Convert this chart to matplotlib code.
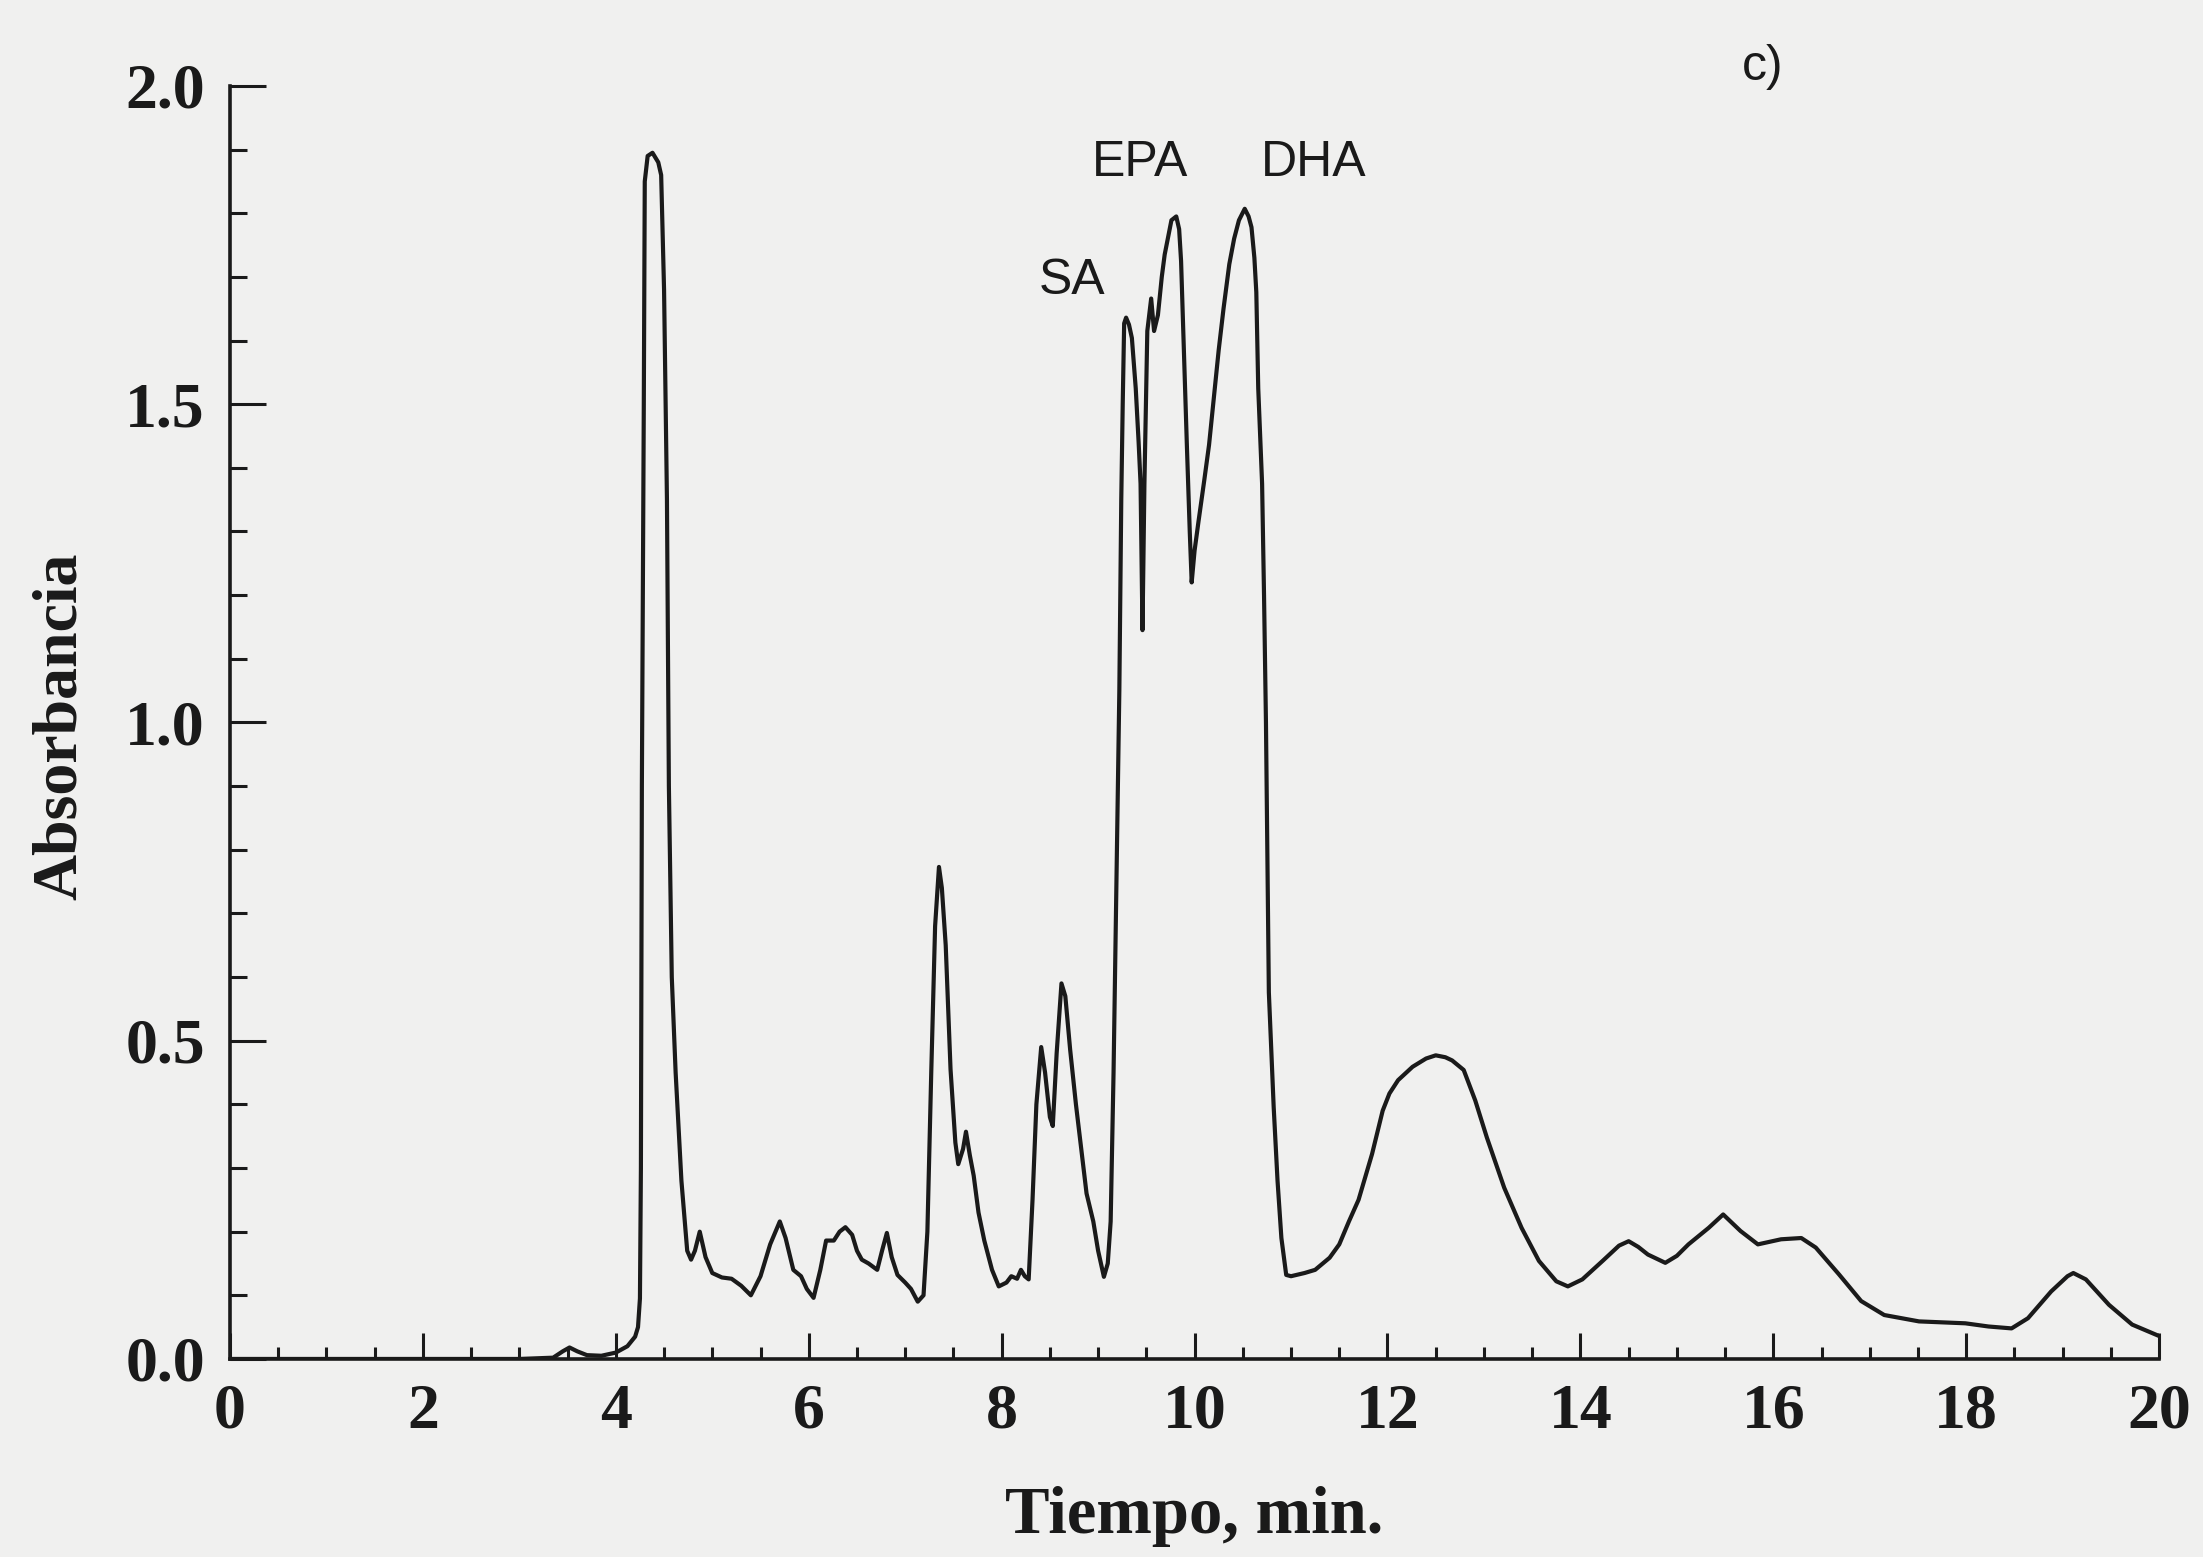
# Cromatograma c): absorbancia frente al tiempo de retención
# con los picos SA, EPA y DHA señalados.

import matplotlib
matplotlib.use('Agg')
import matplotlib.pyplot as plt
from matplotlib.ticker import MultipleLocator, FormatStrFormatter

# Datos del cromatograma (tiempo en min, absorbancia)
tiempo = [
    0.0, 3.0, 3.35, 3.45, 3.52, 3.6, 3.7, 3.85, 4.0, 4.12, 4.2, 4.23, 4.25,
    4.26, 4.27, 4.29, 4.30, 4.33, 4.38, 4.44, 4.47, 4.50, 4.53, 4.55, 4.58,
    4.62, 4.68, 4.74, 4.78, 4.82, 4.87, 4.93, 5.0, 5.1, 5.2, 5.3, 5.4, 5.5,
    5.6, 5.7, 5.76, 5.84, 5.92, 5.98, 6.05, 6.12, 6.18, 6.26, 6.32, 6.38,
    6.45, 6.5, 6.55, 6.62, 6.71, 6.76, 6.81, 6.86, 6.92, 7.0, 7.06, 7.13,
    7.19, 7.23, 7.27, 7.31, 7.35, 7.38, 7.42, 7.47, 7.52, 7.55, 7.6, 7.63,
    7.67, 7.71, 7.76, 7.82, 7.9, 7.97, 8.05, 8.1, 8.16, 8.2, 8.24, 8.28,
    8.32, 8.36, 8.41, 8.45, 8.5, 8.53, 8.57, 8.62, 8.66, 8.71, 8.77, 8.82,
    8.88, 8.95, 9.0, 9.06, 9.1, 9.13, 9.16, 9.19, 9.22, 9.24, 9.255, 9.27,
    9.29, 9.32, 9.35, 9.39, 9.42, 9.44, 9.46, 9.48, 9.51, 9.55, 9.58, 9.62,
    9.66, 9.69, 9.76, 9.81, 9.84, 9.86, 9.88, 9.92, 9.95, 9.97, 10.0, 10.04,
    10.1, 10.15, 10.2, 10.25, 10.3, 10.36, 10.41, 10.46, 10.52, 10.56, 10.59,
    10.62, 10.64, 10.66, 10.70, 10.72, 10.74, 10.77, 10.82, 10.86, 10.9,
    10.95, 11.0, 11.14, 11.25, 11.4, 11.5, 11.6, 11.7, 11.84, 11.95, 12.02,
    12.11, 12.26, 12.4, 12.5, 12.6, 12.67, 12.79, 12.91, 13.03, 13.21, 13.39,
    13.57, 13.75, 13.87, 14.02, 14.23, 14.4, 14.5, 14.6, 14.7, 14.88, 15.0,
    15.12, 15.33, 15.48, 15.66, 15.84, 16.08, 16.29, 16.44, 16.68, 16.91,
    17.15, 17.51, 17.99, 18.23, 18.47, 18.64, 18.88, 19.05, 19.11, 19.24,
    19.48, 19.72, 20.0,
]
absorbancia = [
    0.0, 0.0, 0.002, 0.012, 0.018, 0.012, 0.006, 0.005, 0.01, 0.02, 0.035,
    0.05, 0.095, 0.3, 0.9, 1.5, 1.85, 1.89, 1.895, 1.88, 1.86, 1.68, 1.35,
    0.9, 0.6, 0.45, 0.28, 0.17, 0.156, 0.17, 0.20, 0.16, 0.135, 0.128, 0.126,
    0.115, 0.10, 0.13, 0.18, 0.216, 0.19, 0.14, 0.13, 0.11, 0.096, 0.14,
    0.186, 0.186, 0.20, 0.207, 0.195, 0.17, 0.156, 0.15, 0.14, 0.17, 0.198,
    0.16, 0.132, 0.12, 0.11, 0.09, 0.10, 0.2, 0.45, 0.68, 0.773, 0.74, 0.65,
    0.455, 0.34, 0.306, 0.33, 0.357, 0.32, 0.288, 0.23, 0.186, 0.14, 0.114,
    0.12, 0.13, 0.126, 0.14, 0.13, 0.125, 0.25, 0.40, 0.49, 0.45, 0.38,
    0.366, 0.48, 0.59, 0.57, 0.486, 0.40, 0.336, 0.26, 0.216, 0.17, 0.129,
    0.15, 0.216, 0.45, 0.75, 1.05, 1.35, 1.5, 1.627, 1.636, 1.625, 1.604,
    1.525, 1.44, 1.375, 1.145, 1.375, 1.615, 1.666, 1.615, 1.64, 1.70, 1.735,
    1.789, 1.795, 1.775, 1.725, 1.627, 1.436, 1.30, 1.22, 1.27, 1.315, 1.38,
    1.436, 1.51, 1.585, 1.65, 1.72, 1.76, 1.789, 1.807, 1.795, 1.778, 1.73,
    1.676, 1.525, 1.375, 1.20, 1.0, 0.576, 0.396, 0.28, 0.19, 0.132, 0.13,
    0.135, 0.14, 0.159, 0.18, 0.216, 0.25, 0.322, 0.39, 0.417, 0.438, 0.459,
    0.472, 0.477, 0.474, 0.469, 0.454, 0.406, 0.348, 0.269, 0.206, 0.154,
    0.122, 0.114, 0.125, 0.154, 0.178, 0.185, 0.176, 0.164, 0.151, 0.162,
    0.18, 0.206, 0.227, 0.201, 0.18, 0.188, 0.19, 0.175, 0.133, 0.091, 0.069,
    0.059, 0.056, 0.051, 0.048, 0.064, 0.106, 0.13, 0.135, 0.125, 0.085,
    0.054, 0.036,
]

# Etiquetas de los picos (texto, tiempo, absorbancia)
picos = ['SA', 'EPA', 'DHA']
picos_t = [8.73, 9.44, 11.24]
picos_a = [1.694, 1.879, 1.879]

fondo = '#f0f0ef'
tinta = '#1a1a1a'
serif = 'Liberation Serif'
sans = 'Liberation Sans'

fig = plt.figure(figsize=(22.03, 15.57), dpi=100, facecolor=fondo)
ax = fig.add_axes([0.1044, 0.1272, 0.8757, 0.8176], facecolor=fondo)

ax.plot(tiempo, absorbancia, color=tinta, lw=3.0, solid_joinstyle='round')

ax.set_xlim(0, 20)
ax.set_ylim(0, 2.0)
ax.spines[['top', 'right']].set_visible(False)
for lado in ['left', 'bottom']:
    ax.spines[lado].set_linewidth(2.6)
    ax.spines[lado].set_color(tinta)

ax.xaxis.set_major_locator(MultipleLocator(2))
ax.xaxis.set_minor_locator(MultipleLocator(0.5))
ax.yaxis.set_major_locator(MultipleLocator(0.5))
ax.yaxis.set_minor_locator(MultipleLocator(0.1))
ax.yaxis.set_major_formatter(FormatStrFormatter('%.1f'))

ax.tick_params(axis='x', which='major', direction='in', length=19, width=2.2,
               color=tinta, pad=18)
ax.tick_params(axis='x', which='minor', direction='in', length=8.5, width=2.2,
               color=tinta)
ax.tick_params(axis='y', which='major', direction='in', length=26, width=2.2,
               color=tinta, pad=18)
ax.tick_params(axis='y', which='minor', direction='in', length=12, width=2.2,
               color=tinta)
for lab in ax.get_xticklabels() + ax.get_yticklabels():
    lab.set_fontfamily(serif)
    lab.set_fontweight('bold')
    lab.set_fontsize(46)
    lab.set_color(tinta)

for nombre, t, a in zip(picos, picos_t, picos_a):
    ax.text(t, a, nombre, family=sans, fontsize=36, color=tinta,
            ha='center', va='center')
ax.text(15.89, 2.03, 'c)', family=sans, fontsize=36, color=tinta,
        ha='center', va='center', clip_on=False)

fig.text(0.0277, 0.5337, 'Absorbancia', rotation=90, family=serif,
         fontweight='bold', fontsize=46, color=tinta, ha='center', va='center')
fig.text(0.542, 0.0257, 'Tiempo, min.', family=serif, fontweight='bold',
         fontsize=48, color=tinta, ha='center', va='center')

fig.savefig('out.png', dpi=100, facecolor=fondo)
